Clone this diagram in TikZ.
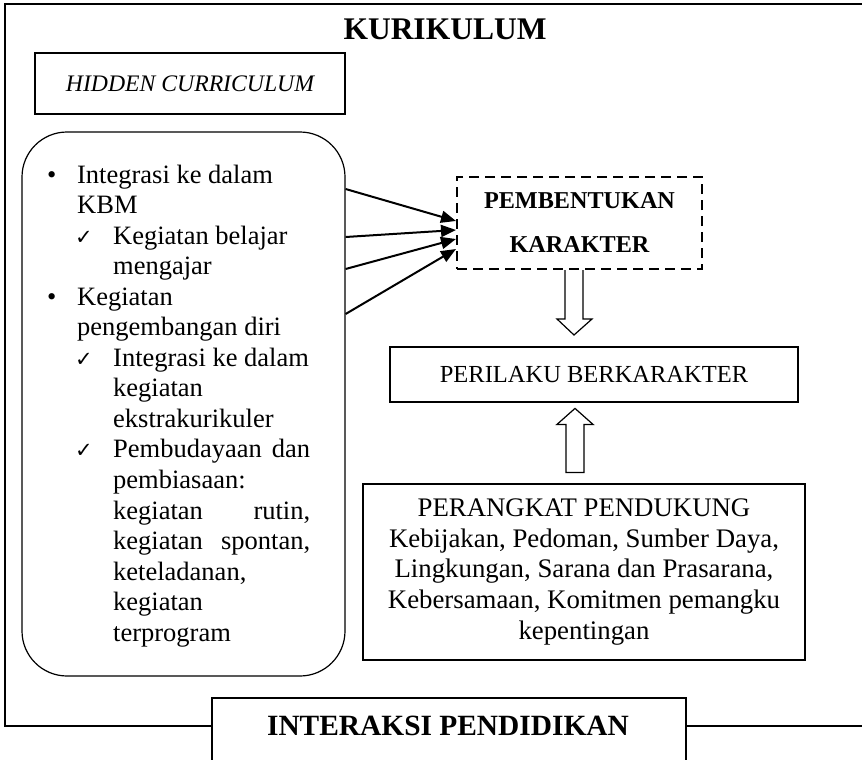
\documentclass[tikz,border=0pt]{standalone}
\usepackage{fontspec}
\setmainfont{Liberation Serif}
\newfontfamily\symf{DejaVu Sans}
\usetikzlibrary{arrows.meta}
\newcommand{\bul}[1]{\hbox to 268pt{\hbox to 35pt{\hskip5pt\relax\textbullet\hfil}#1\hfil}}
\newcommand{\lvA}[1]{\hbox to 268pt{\hskip35pt\relax #1\hfil}}
\newcommand{\ckm}{\hskip33pt\relax\hbox to 16pt{\hfil{\symf\fontsize{21}{21}\selectfont ✓}\hfil}\hskip22pt\relax}
\newcommand{\chk}[1]{\hbox to 268pt{\ckm #1\hfil}}
\newcommand{\chkJ}[2]{\hbox to 268pt{\ckm #1\hfil #2}}
\newcommand{\lvB}[1]{\hbox to 268pt{\hskip71pt\relax #1\hfil}}
\newcommand{\lvJ}[2]{\hbox to 268pt{\hskip71pt\relax #1\hfil #2}}
\begin{document}
\begin{tikzpicture}[x=1pt,y=-1pt,
  box/.style={draw, line width=1.2pt, inner sep=0pt},
  conn/.style={line width=2pt, -{Triangle[length=15pt,width=12pt]}},
  hollow/.style={draw, line width=1.2pt, fill=white},
  frame/.style={line width=1.6pt},
  txt/.style={font=\fontsize{24.5}{30.7}\selectfont},
  txtb/.style={font=\fontsize{26.8}{30.7}\selectfont},
  big/.style={font=\bfseries\fontsize{29.4}{30}\selectfont}]
\useasboundingbox (0,0) rectangle (862,760);
\clip (0,0) rectangle (862,760);
\fill[white] (0,0) rectangle (862,760);

\node[big, font=\bfseries\fontsize{31.5}{32}\selectfont, anchor=base] (kur) at (445,40) {KURIKULUM};
\node[box, minimum width=310pt, minimum height=61pt, font=\itshape\fontsize{23.7}{30}\selectfont] (hid) at (190,83.5) {HIDDEN CURRICULUM};

\node[box, rounded corners=45pt, minimum width=323pt, minimum height=544pt] (rb) at (183.5,404) {};
\node[anchor=base west, inner sep=0pt, font=\fontsize{26.5}{30.6}\selectfont] (lst) at (42,183) {\vtop{\baselineskip=30.55pt\lineskiplimit=-100pt
\bul{Integrasi ke dalam}
\lvA{KBM}
\chk{Kegiatan belajar}
\lvB{mengajar}
\bul{Kegiatan}
\lvA{pengembangan diri}
\chk{Integrasi ke dalam}
\lvB{kegiatan}
\lvB{ekstrakurikuler}
\chkJ{Pembudayaan}{dan}
\lvB{pembiasaan:}
\lvJ{kegiatan}{rutin,}
\lvJ{kegiatan}{spontan,}
\lvB{keteladanan,}
\lvB{kegiatan}
\lvB{terprogram}}};

\node[box, line width=2pt, dash pattern=on 10pt off 6pt, minimum width=245pt, minimum height=92pt, align=center, font=\bfseries\fontsize{24.2}{44}\selectfont] (pk) at (579.5,223) {PEMBENTUKAN\\KARAKTER};

\node[box, minimum width=408pt, minimum height=55pt, txt] (pb) at (594,374.5) {PERILAKU BERKARAKTER};

\node[box, minimum width=442pt, minimum height=176pt, align=center, txtb] (pp) at (584,572) {PERANGKAT PENDUKUNG\\Kebijakan, Pedoman, Sumber Daya,\\Lingkungan, Sarana dan Prasarana,\\Kebersamaan, Komitmen pemangku\\kepentingan};

\node[box, minimum width=474pt, minimum height=102pt] (ib) at (449,749) {};
\node[big, anchor=base] (it) at (448,735) {INTERAKSI PENDIDIKAN};

\draw[frame] (870,4) -- (5,4) -- (5,726) -- (ib.west |- 0,726);
\draw[frame] (ib.east |- 0,726) -- (870,726);

\draw[conn] ([yshift=215pt]rb.east) -- ([yshift=2pt]pk.west);
\draw[conn] ([yshift=167pt]rb.east) -- ([yshift=-7pt]pk.west);
\draw[conn] ([yshift=135pt]rb.east) -- ([yshift=-16pt]pk.west);
\draw[conn] ([yshift=90pt]rb.east) -- ([yshift=-26pt]pk.west);

\draw[line width=1.2pt] ([xshift=-14.5pt]pk.south) -- ++(0,49) -- ++(-8,0) -- ++(17,16) -- ++(18,-16) -- ++(-9,0) -- ++(0,-49);
\draw[hollow] ([xshift=-18pt,yshift=11pt]pp.north) -- ++(0,-48) -- ++(-9,0) -- ++(18,-16) -- ++(18,16) -- ++(-9,0) -- ++(0,48) -- cycle;
\end{tikzpicture}
\end{document}
